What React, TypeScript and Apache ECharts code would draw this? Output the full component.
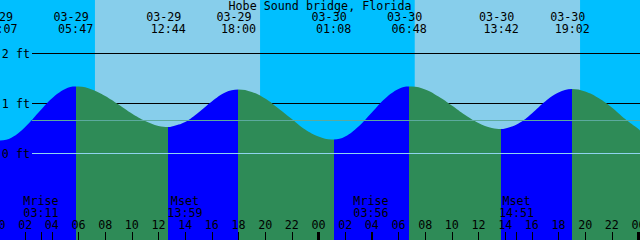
import React, { useEffect, useRef } from 'react';
import * as echarts from 'echarts';

// ---------------- data ----------------
const TITLE = 'Hobe Sound bridge, Florida';
const DAYS = ['03-29', '03-30', '03-31'];

// tide height (ft) read at every full hour from 03-29 00:00 to 03-31 00:00
const HOURLY_HEIGHTS = [
  0.26, 0.32, 0.53, 0.82, 1.10, 1.29, 1.34, 1.28, 1.15, 0.98, 0.80, 0.65,
  0.55, 0.54, 0.63, 0.82, 1.04, 1.22, 1.28, 1.23, 1.10, 0.90, 0.69, 0.48,
  0.34, 0.28, 0.34, 0.54, 0.82, 1.10, 1.29, 1.34, 1.28, 1.14, 0.96, 0.77,
  0.61, 0.51, 0.50, 0.60, 0.80, 1.04, 1.22, 1.29, 1.24, 1.11, 0.92, 0.69,
  0.49,
];
// height read at the chart's right edge
const END_DATE = '03-31';
const END_TIME = '00:07';
const END_HEIGHT = 0.46;

const TIDE_DATES = ['03-29', '03-29', '03-29', '03-29', '03-30', '03-30', '03-30', '03-30'];
const TIDE_TIMES = ['00:07', '05:47', '12:44', '18:00', '01:08', '06:48', '13:42', '19:02'];
const TIDE_KINDS = ['low', 'high', 'low', 'high', 'low', 'high', 'low', 'high'];
const TIDE_HEIGHTS = [0.26, 1.34, 0.53, 1.28, 0.28, 1.34, 0.49, 1.29];

const SUN_DATES = ['03-29', '03-29', '03-30', '03-30'];
const SUN_TIMES = ['07:14', '19:37', '07:13', '19:37'];

const MOON_DATES = ['03-29', '03-29', '03-30', '03-30'];
const MOON_TIMES = ['03:11', '13:59', '03:56', '14:51'];
const MOON_KINDS = ['Mrise', 'Mset', 'Mrise', 'Mset'];

const HOUR_LABELS = [0, 2, 4, 6, 8, 10, 12, 14, 16, 18, 20, 22, 24, 26, 28, 30, 32, 34, 36, 38, 40, 42, 44, 46, 48];
const MIDNIGHTS = [24, 48];
const GRID_LEVELS = [1, 2];
const DATUM_LEVEL = 0;
const MSL_LEVEL = 0.66;

// ---------------- style / layout ----------------
const W = 640;
const H = 240;
const PX_PER_HOUR = W / 48;
const X_OFFSET = -1.5;
const X_MAX = (W - X_OFFSET) / PX_PER_HOUR;
const ZERO_Y = 153.5;
const PX_PER_FT = 50;
const Y_MAX = ZERO_Y / PX_PER_FT;
const Y_MIN = -(H - ZERO_Y) / PX_PER_FT;
const LINE_START_HOUR = (32 - X_OFFSET) / PX_PER_HOUR;

const NIGHT = '#00BFFF';
const DAY = '#87CEEB';
const FLOOD = '#0000FF';
const EBB = '#2E8B57';
const DATUM_COLOR = '#8fd3f0';
const MSL_COLOR = '#5caa9e';
const FONT = "'DejaVu Sans Mono', monospace";
const FS = 11.7;

const toHours = (date: string, time: string) => {
  const [hh, mm] = time.split(':').map(Number);
  return DAYS.indexOf(date) * 24 + hh + mm / 60;
};
const key = (v: number) => v.toFixed(3);

const tideHours = TIDE_TIMES.map((t, i) => toHours(TIDE_DATES[i], t));
const sunHours = SUN_TIMES.map((t, i) => toHours(SUN_DATES[i], t));
const moonHours = MOON_TIMES.map((t, i) => toHours(MOON_DATES[i], t));

const tideDateByKey: Record<string, string> = {};
const tideTimeByKey: Record<string, string> = {};
tideHours.forEach((h, i) => {
  tideDateByKey[key(h)] = TIDE_DATES[i];
  tideTimeByKey[key(h)] = TIDE_TIMES[i];
});
const moonLabelByKey: Record<string, string> = {};
moonHours.forEach((h, i) => {
  moonLabelByKey[key(h)] = `${MOON_KINDS[i]}\n${MOON_TIMES[i]}`;
});

const samples: [number, number][] = HOURLY_HEIGHTS.map((h, i) => [i, h] as [number, number]);
tideHours.forEach((t, i) => {
  if (!samples.some((s) => Math.abs(s[0] - t) < 0.05)) samples.push([t, TIDE_HEIGHTS[i]]);
});
samples.push([toHours(END_DATE, END_TIME), END_HEIGHT]);
samples.sort((a, b) => a[0] - b[0]);

// flood (rising) after a low, ebb (falling) after a high
const bounds = [0, ...tideHours, X_MAX + 1];
const pieces = bounds.slice(0, -1).map((b, i) => ({
  gte: b,
  lt: bounds[i + 1],
  color: i === 0 ? (TIDE_KINDS[0] === 'low' ? EBB : FLOOD) : TIDE_KINDS[i - 1] === 'low' ? FLOOD : EBB,
}));

const dayAreas: any[] = [];
for (let i = 0; i + 1 < sunHours.length; i += 2) {
  dayAreas.push([{ xAxis: sunHours[i] }, { xAxis: sunHours[i + 1] }]);
}

const textBase = { color: '#000', fontFamily: FONT, fontSize: FS };
const axisCommon = {
  type: 'value',
  min: 0,
  max: X_MAX,
  z: 10,
  splitLine: { show: false },
  axisLine: { show: false, onZero: false },
};

const option: any = {
  animation: false,
  backgroundColor: NIGHT,
  title: {
    text: TITLE,
    left: 'center',
    top: 0,
    padding: 0,
    z: 10,
    textStyle: { ...textBase, fontWeight: 'normal' },
  },
  grid: { left: X_OFFSET, right: 0, top: 0, bottom: 0, outerBoundsMode: 'none', containLabel: false },
  xAxis: [
    {
      ...axisCommon,
      position: 'bottom',
      axisTick: {
        show: true,
        inside: true,
        length: 8,
        customValues: [...HOUR_LABELS, ...moonHours].sort((a, b) => a - b),
        lineStyle: { color: '#000', width: 1 },
      },
      axisLabel: {
        show: true,
        inside: true,
        margin: 9,
        customValues: HOUR_LABELS,
        formatter: (v: number) => String(Math.round(v) % 24).padStart(2, '0'),
        ...textBase,
      },
    },
    {
      ...axisCommon,
      position: 'bottom',
      axisTick: {
        show: true,
        inside: true,
        length: 8,
        customValues: MIDNIGHTS,
        lineStyle: { color: '#000', width: 3 },
      },
      axisLabel: { show: false },
    },
    {
      ...axisCommon,
      position: 'bottom',
      axisTick: { show: false },
      axisLabel: {
        show: true,
        inside: true,
        margin: 21,
        customValues: moonHours,
        formatter: (v: number) => moonLabelByKey[key(v)] || '',
        lineHeight: 12,
        ...textBase,
      },
    },
    {
      ...axisCommon,
      position: 'top',
      axisTick: { show: false },
      axisLabel: {
        show: true,
        inside: true,
        margin: 11,
        padding: [0, 9, 0, 0],
        customValues: tideHours,
        formatter: (v: number) => tideDateByKey[key(v)] || '',
        ...textBase,
      },
    },
    {
      ...axisCommon,
      position: 'top',
      axisTick: { show: false },
      axisLabel: {
        show: true,
        inside: true,
        margin: 23,
        customValues: tideHours,
        formatter: (v: number) => tideTimeByKey[key(v)] || '',
        ...textBase,
      },
    },
  ],
  yAxis: { type: 'value', min: Y_MIN, max: Y_MAX, show: false, splitLine: { show: false } },
  visualMap: {
    show: false,
    type: 'piecewise',
    dimension: 0,
    seriesIndex: 1,
    pieces,
    outOfRange: { color: EBB },
  },
  series: [
    {
      type: 'line',
      z: 1,
      data: [],
      silent: true,
      markArea: {
        z: 1,
        silent: true,
        itemStyle: { color: DAY, borderWidth: 0 },
        data: dayAreas,
      },
      markLine: {
        z: 1.5,
        silent: true,
        symbol: ['none', 'none'],
        lineStyle: { type: 'solid', width: 1, color: '#000' },
        label: { show: true, position: 'start', distance: 2, ...textBase },
        data: GRID_LEVELS.map((lv) => [
          { coord: [LINE_START_HOUR, lv], label: { formatter: `${lv} ft` } },
          { coord: [X_MAX, lv] },
        ]),
      },
    },
    {
      type: 'line',
      z: 2,
      data: samples,
      smooth: 0.4,
      showSymbol: false,
      silent: true,
      lineStyle: { width: 0 },
      areaStyle: { opacity: 1, origin: 'start' },
      markLine: {
        z: 5,
        silent: true,
        symbol: ['none', 'none'],
        label: { show: true, position: 'start', distance: 2, ...textBase },
        data: [
          [
            {
              coord: [LINE_START_HOUR, DATUM_LEVEL],
              label: { formatter: `${DATUM_LEVEL} ft` },
              lineStyle: { type: 'solid', width: 1, color: DATUM_COLOR },
            },
            { coord: [X_MAX, DATUM_LEVEL] },
          ],
          [
            {
              coord: [LINE_START_HOUR, MSL_LEVEL],
              label: { show: false },
              lineStyle: { type: 'solid', width: 1, color: MSL_COLOR },
            },
            { coord: [X_MAX, MSL_LEVEL] },
          ],
        ],
      },
    },
  ],
};

export default function App() {
  const ref = useRef<HTMLDivElement>(null);
  useEffect(() => {
    const chart = echarts.init(ref.current!, null, { renderer: 'svg' });
    chart.setOption(option);
    return () => chart.dispose();
  }, []);
  return <div ref={ref} style={{ position: 'absolute', left: 0, top: 0, width: W, height: H }} />;
}
